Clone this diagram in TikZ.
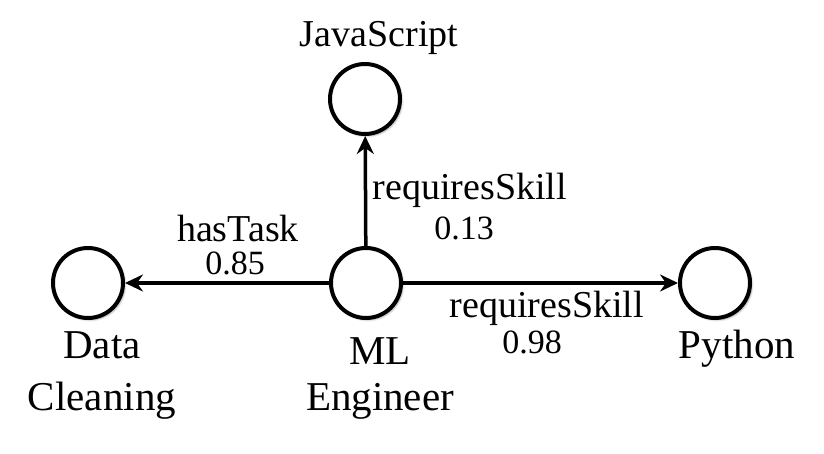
\documentclass[tikz,border=0pt]{standalone}
\usepackage{fontspec}
\setmainfont{Liberation Serif}
\usetikzlibrary{arrows.meta,shadows.blur}

\tikzset{
  entity/.style={circle, draw=black, line width=4pt, fill=white, minimum size=70pt, inner sep=0pt,
    blur shadow={shadow xshift=2pt, shadow yshift=-2pt, shadow blur steps=6, shadow opacity=35}},
  relation/.style={line width=3.5pt, -{Stealth[length=18pt, width=17pt, inset=6pt]}},
  nodelabel/.style={inner sep=0pt, outer sep=0pt, anchor=base, align=center, font=\fontsize{41pt}{52pt}\selectfont},
  edgelabel/.style={inner sep=0pt, outer sep=0pt, anchor=base, font=\fontsize{38pt}{38pt}\selectfont},
  weightlabel/.style={inner sep=0pt, outer sep=0pt, anchor=base, font=\fontsize{34pt}{34pt}\selectfont}
}

\begin{document}
\begin{tikzpicture}[x=1pt,y=-1pt]
\useasboundingbox (0,0) rectangle (824,454);
% entities
\node[entity] (ml) at (366,283) {};
\node[entity] (js) at (365,99) {};
\node[entity] (dc) at (88,283) {};
\node[entity] (py) at (715,283) {};
% relations
\draw[relation] (ml) -- (dc);
\draw[relation] (ml) -- (js);
\draw[relation] (ml) -- (py);
% entity names (base = last line)
\node[edgelabel] (jsname) at (379,47) {JavaScript};
\node[nodelabel] (dcname) at (102,410) {Data\\Cleaning};
\node[nodelabel] (mlname) at (380,410) {ML\\[-6pt]Engineer};
\node[nodelabel] (pyname) at (737,358) {Python};
% relation names and weights
\node[edgelabel] (tasklabel) at (238,242) {hasTask};
\node[weightlabel] (taskweight) at (235,275) {0.85};
\node[edgelabel] (jslabel) at (470,200) {requiresSkill};
\node[weightlabel] (jsweight) at (464,240) {0.13};
\node[edgelabel] (pylabel) at (547,317) {requiresSkill};
\node[weightlabel] (pyweight) at (532,353) {0.98};
\end{tikzpicture}
\end{document}
